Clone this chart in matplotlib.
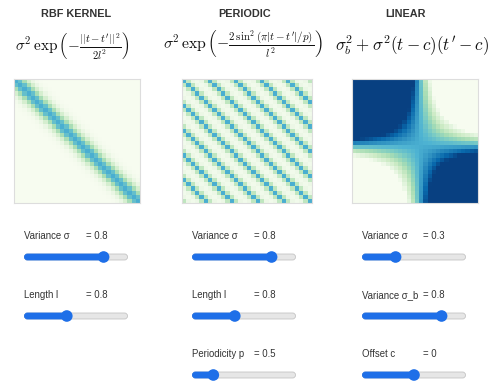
import numpy as np
import matplotlib
matplotlib.use("Agg")
import matplotlib.pyplot as plt
from matplotlib.patches import FancyBboxPatch, Circle

plt.rcParams['font.family'] = ['Liberation Sans', 'DejaVu Sans']
plt.rcParams['mathtext.fontset'] = 'cm'

# ---------------- data ----------------
titles = ["RBF KERNEL", "PERIODIC", "LINEAR"]
formulas = [
    r"$\sigma^2\,\exp\left(-\frac{||t-t^{\prime}||^2}{2l^2}\right)$",
    r"$\sigma^2\,\exp\left(-\frac{2\,\sin^2(\pi|t-t^{\prime}|/p)}{l^2}\right)$",
    r"$\sigma_b^2+\sigma^2(t-c)(t^{\prime}-c)$",
]
# input grid
t_start = -6.5
t_step = 5 / 12
n_points = 30

# slider parameters per panel: (label, value, min, max)
rbf_sliders = [("Variance σ", 0.8, 0.0, 1.0), ("Length l", 0.8, 0.0, 2.0)]
per_sliders = [("Variance σ", 0.8, 0.0, 1.0), ("Length l", 0.8, 0.0, 2.0),
               ("Periodicity p", 0.5, 0.0, 3.0)]
lin_sliders = [("Variance σ", 0.3, 0.0, 1.0), ("Variance σ_b", 0.8, 0.0, 1.0),
               ("Offset c", 0, -1.0, 1.0)]

# ---------------- kernels ----------------
t = t_start + t_step * np.arange(n_points)
T1, T2 = np.meshgrid(t, t, indexing="ij")

s, l = rbf_sliders[0][1], rbf_sliders[1][1]
K_rbf = s**2 * np.exp(-(T1 - T2) ** 2 / (2 * l**2))

s, l, p = per_sliders[0][1], per_sliders[1][1], per_sliders[2][1]
K_per = s**2 * np.exp(-2 * np.sin(np.pi * np.abs(T1 - T2) / p) ** 2 / l**2)

s, sb, c = lin_sliders[0][1], lin_sliders[1][1], lin_sliders[2][1]
K_lin = sb**2 + s**2 * (T1 - c) * (T2 - c)

# ---------------- figure ----------------
W, H = 488, 383
fig = plt.figure(figsize=(W / 100, H / 100), dpi=100)
fig.patch.set_facecolor("white")

def px_axes(x0, y0, x1, y1):
    return fig.add_axes([x0 / W, 1 - y1 / H, (x1 - x0) / W, (y1 - y0) / H])

heat_boxes = [(14, 79, 140, 203), (182, 79, 312, 203), (352, 79, 478, 203)]
for K, box in zip([K_rbf, K_per, K_lin], heat_boxes):
    ax = px_axes(*box)
    ax.imshow(K, cmap="GnBu", vmin=0, vmax=1, aspect="auto", interpolation="nearest")
    ax.set_xticks([]); ax.set_yticks([])
    for sp in ax.spines.values():
        sp.set_color("#dddddd")
        sp.set_linewidth(0.8)

# overlay in pixel coordinates
ov = fig.add_axes([0, 0, 1, 1], zorder=5)
ov.set_xlim(0, W); ov.set_ylim(H, 0)
ov.axis("off")

title_x = [76, 244.5, 405]
for x, ttl in zip(title_x, titles):
    ov.text(x, 14, ttl, ha="center", va="center", fontsize=7.8, fontweight="bold",
            color="#333333")

formula_x = [15, 163, 335]
formula_size = [11, 11.3, 12.3]
for x, f, fs in zip(formula_x, formulas, formula_size):
    ov.text(x, 45, f, ha="left", va="center", fontsize=fs, color="#111111")

col_left = [24, 192, 362]
eq_x = [86, 254, 423]
track_w = 104
row_label_y = [236, 295, 354]
row_track_y = [257, 316, 375]
blue = "#1e6fe8"

for panel, (sliders, x0, xe) in enumerate(zip([rbf_sliders, per_sliders, lin_sliders],
                                              col_left, eq_x)):
    for r, (lab, val, lo, hi) in enumerate(sliders):
        ov.text(x0 - 0.5, row_label_y[r], lab, ha="left", va="center", fontsize=6.9,
                color="#333333")
        ov.text(xe, row_label_y[r], f"= {val}", ha="left", va="center", fontsize=6.9,
                color="#333333")
        ty = row_track_y[r]
        track = FancyBboxPatch((x0 + 0.5, ty - 3), track_w - 1, 6,
                               boxstyle="round,pad=0,rounding_size=3",
                               facecolor="#e6e6e6", edgecolor="#c4c4c4", linewidth=0.6)
        ov.add_patch(track)
        frac = (val - lo) / (hi - lo)
        cx = x0 + 6 + frac * (track_w - 12)
        fill = FancyBboxPatch((x0 + 0.5, ty - 3), cx - x0 - 0.5, 6,
                              boxstyle="round,pad=0,rounding_size=3",
                              facecolor=blue, edgecolor=blue, linewidth=0.6)
        ov.add_patch(fill)
        ov.add_patch(Circle((cx, ty), 5.8, facecolor=blue, edgecolor="none"))

fig.savefig("out.png", dpi=100, facecolor="white")
